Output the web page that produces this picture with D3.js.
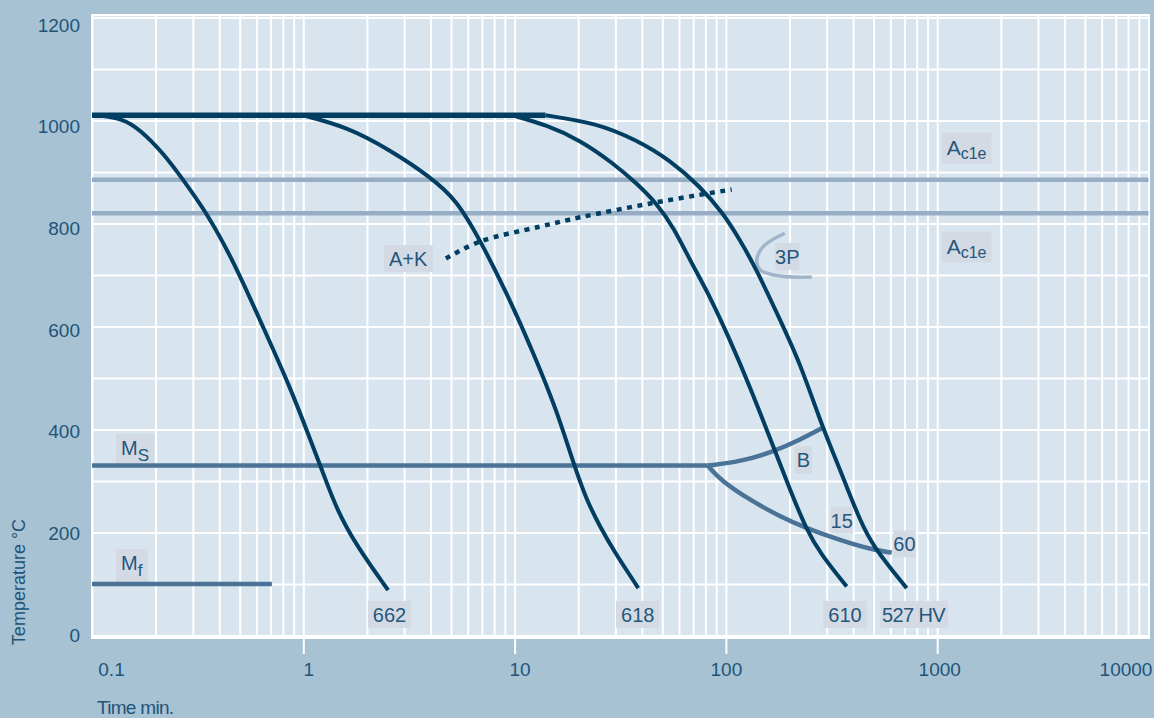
<!DOCTYPE html>
<html lang="en">
<head>
<meta charset="UTF-8">
<title>CCT diagram</title>
<script src="https://d3js.org/d3.v7.min.js"></script>
<style>
    body { margin: 0; background: #a6c2d3; }
    svg { display: block; font-family: "Liberation Sans", Arial, sans-serif; }
    .xaxis text, .yaxis text { fill: #22547a; font-size: 19px; }
    .grid line { stroke: #fff; stroke-width: 2px; }
    .lbl text { fill: #24577c; }
    .lbl rect { fill: #d3dae4; }
</style>
</head>
<body>
<script>
    // axis ticks
    const timeTicks = [0.1, 1, 10, 100, 1000, 10000];
    const tempTicks = [0, 200, 400, 600, 800, 1000, 1200];

    // horizontal reference lines (°C)
    const austenitizeTemp = 1010;
    const austenitizeEnd = 14;          // min, where the last curve leaves the line
    const ac1eTemps = [885, 820];
    const msLine = [[0.1, 330], [82, 330]];
    const mfLine = [[0.1, 100], [0.71, 100]];

    // cooling curves [time min, temp °C]
    const curve662 = [[0.105, 1010], [0.14, 1004], [0.169, 982], [0.217, 937], [0.27, 885], [0.35, 820], [0.465, 729],
        [0.645, 599], [0.865, 483], [1.08, 380], [1.24, 316], [1.44, 244], [1.8, 172], [2.52, 88]];
    const curve618 = [[1.0, 1010], [1.6, 988], [2.57, 943], [3.98, 891], [5.32, 846], [6.86, 768], [9.18, 665],
        [12.3, 548], [15.8, 438], [19.0, 334], [21.9, 263], [25.4, 211], [29.3, 166], [38.5, 92]];
    const curve610 = [[9.8, 1010], [14.2, 991], [20.4, 962], [29.3, 917], [37.8, 878], [47, 839], [56.4, 794],
        [70.1, 716], [81.1, 671], [104.6, 574], [130, 483], [167.6, 367], [201, 283], [241, 205], [279, 160], [373, 95]];
    const curve527 = [[14, 1010], [24.5, 995], [37.8, 962], [54.4, 923], [75.4, 872], [97.2, 820], [116.6, 768],
        [139.9, 710], [180.3, 613], [224.3, 529], [278.8, 418], [322.3, 354], [373, 289], [431, 224], [498, 172], [717, 92]];

    // transformation lines
    const carbideLine = [[4.73, 732], [6.86, 765], [13.2, 794], [20.4, 812], [45.3, 840], [106.5, 866]];
    const pearlite3P = [[190, 781], [150, 755], [140, 729], [145, 710], [180, 698], [255, 696]];
    const bainiteStart = [[82, 330], [117, 337.5], [168, 357], [224, 380], [289, 404]];
    const bainiteEnd = [[82, 330], [94, 302], [130, 263], [180, 231], [241, 208], [347, 185], [498, 166], [609, 161]];

    // labels: [text, subscript, time, temp]
    const labels = [
        ["A", "c1e", 1050, 948], ["A", "c1e", 1050, 756],
        ["A+K", "", 2.41, 731], ["3P", "", 170.8, 735],
        ["M", "S", 0.13, 364], ["M", "f", 0.13, 141],
        ["B", "", 212, 340], ["15", "", 313, 223], ["60", "", 620, 177],
        ["662", "", 2.02, 40], ["618", "", 30.2, 40], ["610", "", 289, 40], ["527 HV", "", 536, 40]
    ];

    const W = 1154, H = 718;
    const m = {left: 92, top: 15, right: 1149, bottom: 638};

    const svg = d3.select("body").append("svg").attr("width", W).attr("height", H);

    const x = d3.scaleLog().domain([0.1, 10000]).range([92, 1148.5]);
    const y = d3.scaleLinear().domain([0, 1200]).range([635.5, 17.5]);
    const yLabel = d3.scaleLinear().domain([0, 1200]).range([635, 25]);

    svg.append("rect")
        .attr("x", m.left).attr("y", m.top)
        .attr("width", m.right - m.left).attr("height", m.bottom - m.top)
        .attr("fill", "#d9e5ee").attr("stroke", "#fff").attr("stroke-width", 2);

    // grid
    const gx = svg.append("g").attr("class", "grid")
        .attr("transform", `translate(0,${m.bottom})`)
        .call(d3.axisBottom(x).tickValues(x.ticks()).tickSize(-(m.bottom - m.top)).tickFormat(""));
    gx.select(".domain").remove();
    const gy = svg.append("g").attr("class", "grid")
        .attr("transform", `translate(${m.left},0)`)
        .call(d3.axisLeft(y).ticks(12).tickSize(-(m.right - m.left)).tickFormat(""));
    gy.select(".domain").remove();

    // axes
    const xa = svg.append("g").attr("class", "xaxis")
        .attr("transform", `translate(0,${m.bottom})`)
        .call(d3.axisBottom(x).tickValues(timeTicks).tickSize(16).tickPadding(9).tickFormat(d => String(d)));
    xa.select(".domain").remove();
    xa.selectAll("line").attr("stroke", "#fff").attr("stroke-width", 2)
        .filter(d => d === 0.1 || d === 10000).remove();
    const dxs = {0.1: 19, 1: 5, 10: 5, 100: 0, 1000: 2, 10000: -23};
    xa.selectAll("text").attr("dx", d => dxs[d]);

    const ya = svg.append("g").attr("class", "yaxis")
        .attr("transform", "translate(80,0)")
        .call(d3.axisLeft(yLabel).tickValues(tempTicks).tickSize(0).tickPadding(0).tickFormat(d3.format("d")));
    ya.select(".domain").remove();

    svg.append("text").text("Temperature °C")
        .attr("transform", "translate(25,582) rotate(-90)")
        .attr("text-anchor", "middle").attr("fill", "#22547a").attr("font-size", 18);
    svg.append("text").text("Time min.")
        .attr("x", 97).attr("y", 714)
        .attr("fill", "#22547a").attr("font-size", 19).attr("letter-spacing", -0.7);

    const smooth = d3.line().x(d => x(d[0])).y(d => y(d[1])).curve(d3.curveBasis);
    const line = d3.line().x(d => x(d[0])).y(d => y(d[1])).curve(d3.curveCatmullRom.alpha(0.5));
    const straight = d3.line().x(d => x(d[0])).y(d => y(d[1]));

    // labels (under the lines)
    labels.forEach(([txt, sub, t, T]) => {
        const pad = (txt.length === 3 || sub) ? 5 : (txt.length === 2 ? 0 : 2);
        const g = svg.append("g").attr("class", "lbl");
        const tx = g.append("text").attr("x", x(t) + pad).attr("y", y(T)).attr("dy", "0.35em")
            .attr("font-size", sub === "c1e" ? 21 : 20)
            .attr("letter-spacing", txt.length > 3 ? -0.6 : 0);
        tx.append("tspan").text(txt);
        if (sub) {
            tx.append("tspan").text(sub).attr("font-size", sub === "c1e" ? 16 : 17).attr("dy", sub === "c1e" ? 4 : 6);
        }
        const b = tx.node().getBBox();
        g.insert("rect", "text")
            .attr("x", x(t)).attr("y", b.y - 3)
            .attr("width", b.width + 2 * pad).attr("height", b.height + 5);
    });

    // Ac1e
    svg.selectAll(".ac1e").data(ac1eTemps).enter().append("path")
        .attr("d", T => straight([[0.1, T], [10000, T]]))
        .attr("stroke", "#97adc3").attr("stroke-width", 4.5).attr("fill", "none");

    // Ms / Mf / bainite
    svg.selectAll(".mart").data([msLine, mfLine, bainiteStart, bainiteEnd]).enter().append("path")
        .attr("d", d => smooth(d))
        .attr("stroke", "#4b7397").attr("stroke-width", 4.5).attr("fill", "none");

    svg.append("path").attr("d", line(pearlite3P))
        .attr("stroke", "#a0b5ca").attr("stroke-width", 3.5).attr("fill", "none");

    svg.append("path").attr("d", line(carbideLine))
        .attr("stroke", "#023e62").attr("stroke-width", 4.5).attr("stroke-dasharray", "5,5.5").attr("fill", "none");

    // austenitizing temperature
    svg.append("path").attr("d", straight([[0.1, austenitizeTemp], [austenitizeEnd, austenitizeTemp]]))
        .attr("stroke", "#023e62").attr("stroke-width", 5.5).attr("fill", "none");

    svg.selectAll(".cool").data([curve662, curve618, curve610, curve527]).enter().append("path")
        .attr("d", d => smooth(d))
        .attr("stroke", "#023e62").attr("stroke-width", 4).attr("fill", "none");
</script>
</body>
</html>
